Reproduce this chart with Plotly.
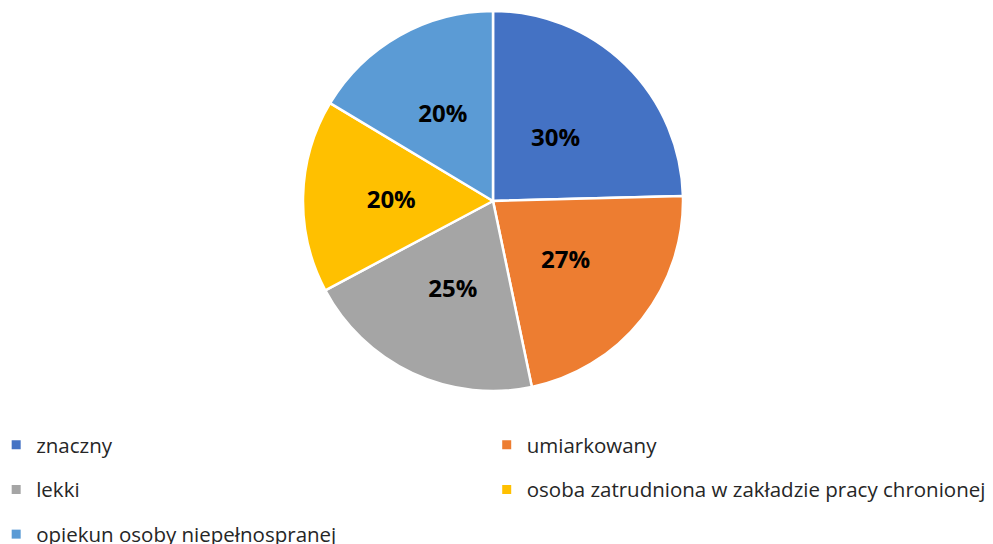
import plotly.graph_objects as go

categories = ["znaczny", "umiarkowany", "lekki",
              "osoba zatrudniona w zakładzie pracy chronionej",
              "opiekun osoby niepełnospranej"]
values = [30, 27, 25, 20, 20]
colors = ["#4472C4", "#ED7D31", "#A5A5A5", "#FFC000", "#5B9BD5"]
legend_column = ["legend", "legend2", "legend", "legend2", "legend"]

FONT = "'Open Sans', sans-serif"

# page body adds an 8px margin, so the figure is sized to fit the window
W, H = 985, 536
cx, cy = 485 / W, 1 - 193 / H
ry, rx = 190 / H, 0.2

fig = go.Figure()
# the pie itself
fig.add_trace(go.Pie(
    labels=categories, values=values, sort=False, direction="clockwise", rotation=0,
    marker=dict(colors=colors, line=dict(color="white", width=2.5)),
    textinfo="none",
    domain=dict(x=[cx - rx, cx + rx], y=[cy - ry, cy + ry]),
    showlegend=False, hoverinfo="label+value",
))
# transparent copy, smaller, used only to place the value labels nearer the centre
k = 0.8
fig.add_trace(go.Pie(
    labels=categories, values=values, sort=False, direction="clockwise", rotation=0,
    marker=dict(colors=["rgba(0,0,0,0)"] * len(values), line=dict(width=0)),
    texttemplate="%{value}%", textposition="inside", insidetextorientation="horizontal",
    textfont=dict(family=FONT, size=24, color="black", weight="bold"),
    domain=dict(x=[cx - rx * k, cx + rx * k], y=[cy - ry * k, cy + ry * k]),
    showlegend=False, hoverinfo="skip",
))

# legend entries (one per category) split over two columns
for i, (name, col, leg) in enumerate(zip(categories, colors, legend_column)):
    fig.add_trace(go.Scatter(
        x=[None], y=[None], mode="markers", name=name,
        marker=dict(symbol="square", size=9, color=col),
        legend=leg, legendgroup=f"g{i}",
    ))

legend_common = dict(
    orientation="v", yanchor="top", y=0.222, xanchor="left",
    font=dict(family=FONT, size=20.5, color="#262626"),
    bgcolor="rgba(0,0,0,0)", tracegroupgap=15, itemclick=False,
)
fig.update_layout(
    width=W, height=H,
    margin=dict(l=0, r=0, t=0, b=0, autoexpand=False),
    paper_bgcolor="white", plot_bgcolor="white",
    xaxis=dict(visible=False), yaxis=dict(visible=False),
    legend=dict(x=-0.012, **legend_common),
    legend2=dict(x=0.486, **legend_common),
)

fig.write_html("out.html")
